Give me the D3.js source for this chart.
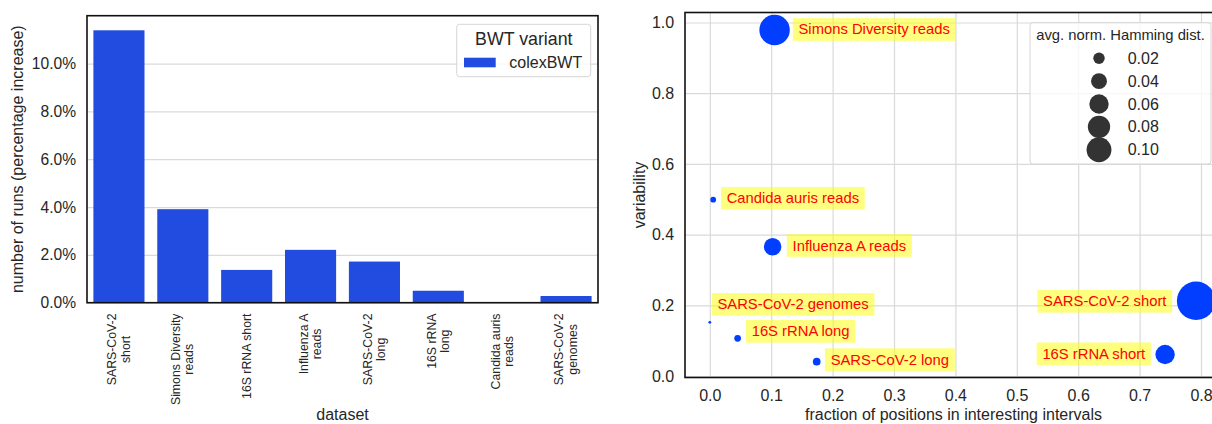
<!DOCTYPE html>
<html>
<head>
<meta charset="utf-8">
<script src="https://cdn.jsdelivr.net/npm/d3@7"></script>
<style>
  body { margin: 0; background: #fff; }
  svg { display: block; font-family: Arial, "Liberation Sans", sans-serif; }
</style>
</head>
<body>
<div id="chart"></div>
<script>
// left panel: run increase per dataset
const barCategories = ['SARS-CoV-2\nshort', 'Simons Diversity\nreads', '16S rRNA short', 'Influenza A\nreads',
    'SARS-CoV-2\nlong', '16S rRNA\nlong', 'Candida auris\nreads', 'SARS-CoV-2\ngenomes'];
const runIncrease = [11.39, 3.91, 1.37, 2.21, 1.72, 0.50, 0.0, 0.28];
const pctTicks = [0, 2, 4, 6, 8, 10];

// right panel: scatter
const datasets = ['SARS-CoV-2 short', 'Simons Diversity reads', '16S rRNA short', 'Influenza A reads',
    'SARS-CoV-2 long', '16S rRNA long', 'Candida auris reads', 'SARS-CoV-2 genomes'];
const fraction = [0.792, 0.1055, 0.7415, 0.1023, 0.1741, 0.0453, 0.0055, 0.0];
const variability = [0.2127, 0.9788, 0.0608, 0.3658, 0.0405, 0.1066, 0.4987, 0.1519];
const hamming = [0.240, 0.150, 0.060, 0.049, 0.0083, 0.006, 0.004, 0.0];
const xTicks = [0, 0.1, 0.2, 0.3, 0.4, 0.5, 0.6, 0.7, 0.8];
const yTicks = [0, 0.2, 0.4, 0.6, 0.8, 1.0];
const sizeLegend = [0.02, 0.04, 0.06, 0.08, 0.10];

// label placement (side of the point, gap to circle edge, vertical nudge)
const labelSide = ['left', 'right', 'left', 'right', 'right', 'right', 'right', 'right'];
const labelGap = [4.7, 3, 4.5, 5.5, 4.4, 5, 4.9, 0.5];
const labelShift = [0.5, -0.5, -0.7, -1.2, -2, -7, -1.4, -18];

const textColor = '#262626';
const gridColor = '#dadada';

const svg = d3.select('#chart')
    .append('svg')
        .attr('width', 1212)
        .attr('height', 424);

// ---------- bar chart ----------
const L = { left: 87, right: 598, top: 15.7, bottom: 302.7 };

const xBand = d3.scaleBand()
    .domain(barCategories)
    .range([L.left, L.right])
    .paddingInner(0.2)
    .paddingOuter(0.1);

const yPct = d3.scaleLinear()
    .domain([0, 12.0])
    .range([L.bottom, L.top]);

const gridL = svg.append('g')
    .attr('transform', `translate(${L.left},0)`)
    .call(d3.axisLeft(yPct).tickValues(pctTicks).tickSize(-(L.right - L.left)).tickFormat(''));
gridL.select('.domain').remove();
gridL.selectAll('line').attr('stroke', gridColor).attr('stroke-width', 1.2);

svg.selectAll('.bar')
    .data(runIncrease)
    .enter()
    .append('rect')
        .attr('class', 'bar')
        .attr('x', (d, i) => xBand(barCategories[i]))
        .attr('width', xBand.bandwidth())
        .attr('y', d => yPct(d))
        .attr('height', d => yPct(0) - yPct(d))
        .style('fill', '#224be0');

const yAxisL = svg.append('g')
    .attr('transform', `translate(${L.left},0)`)
    .call(d3.axisLeft(yPct).tickValues(pctTicks).tickSize(0).tickPadding(11)
        .tickFormat(d => d.toFixed(1) + '%'));
yAxisL.select('.domain').remove();
yAxisL.selectAll('text')
    .attr('font-size', 15.6)
    .attr('fill', textColor)
    .attr('font-family', 'Arial, "Liberation Sans", sans-serif');

// rotated multi-line category labels
const tickTop = 313.5;
const lineStep = 13.2;
barCategories.forEach(cat => {
    const lines = cat.split('\n');
    const g = svg.append('g')
        .attr('transform', `translate(${xBand(cat) + xBand.bandwidth() / 2}, ${tickTop}) rotate(-90)`);
    const texts = lines.map((ln, i) => g.append('text')
        .attr('y', (i - (lines.length - 1) / 2) * lineStep)
        .attr('dominant-baseline', 'central')
        .attr('text-anchor', 'middle')
        .attr('font-size', 12.3)
        .attr('fill', textColor)
        .text(ln));
    const maxLen = d3.max(texts, t => t.node().getComputedTextLength());
    texts.forEach(t => t.attr('x', -maxLen / 2));
});

svg.append('rect')
    .attr('x', L.left)
    .attr('y', L.top)
    .attr('width', L.right - L.left)
    .attr('height', L.bottom - L.top)
    .style('fill', 'none')
    .style('stroke', '#111')
    .style('stroke-width', 1.6);

svg.append('text')
    .attr('transform', `translate(17.8, ${(L.top + L.bottom) / 2}) rotate(-90)`)
    .attr('text-anchor', 'middle')
    .attr('dominant-baseline', 'central')
    .attr('font-size', 16)
    .attr('fill', textColor)
    .text('number of runs (percentage increase)');

svg.append('text')
    .attr('x', (L.left + L.right) / 2)
    .attr('y', 420)
    .attr('text-anchor', 'middle')
    .attr('font-size', 16)
    .attr('fill', textColor)
    .text('dataset');

// bar legend
const legL = svg.append('g');
legL.append('rect')
    .attr('x', 456.7).attr('y', 24.3)
    .attr('width', 134).attr('height', 52.4)
    .attr('rx', 3)
    .style('fill', '#fff').style('fill-opacity', 0.8)
    .style('stroke', '#d6d6d6').style('stroke-width', 1);
legL.append('text')
    .attr('x', 523.8).attr('y', 39.3)
    .attr('text-anchor', 'middle')
    .attr('dominant-baseline', 'central')
    .attr('font-size', 17.8)
    .attr('fill', textColor)
    .text('BWT variant');
legL.append('rect')
    .attr('x', 464).attr('y', 57.7)
    .attr('width', 31.7).attr('height', 9.6)
    .style('fill', '#224be0');
legL.append('text')
    .attr('x', 509.3).attr('y', 62.5)
    .attr('dominant-baseline', 'central')
    .attr('font-size', 16)
    .attr('fill', textColor)
    .text('colexBWT');

// ---------- scatter ----------
const R = { left: 685, right: 1222, top: 12.5, bottom: 377.5 };

const xLin = d3.scaleLinear()
    .domain([-0.0404, 0.8342])
    .range([R.left, R.right]);
const yLin = d3.scaleLinear()
    .domain([-0.0042, 1.0283])
    .range([R.bottom, R.top]);
// marker area (px^2) grows linearly with the hamming distance
const area = d3.scaleLinear()
    .domain([0, 0.1])
    .range([2, 155]);
const radius = v => Math.sqrt(area(v));

const gx = svg.append('g')
    .attr('transform', `translate(0,${R.bottom})`)
    .call(d3.axisBottom(xLin).tickValues(xTicks).tickSize(-(R.bottom - R.top)).tickFormat(''));
gx.select('.domain').remove();
gx.selectAll('line').attr('stroke', gridColor).attr('stroke-width', 1.2);

const gy = svg.append('g')
    .attr('transform', `translate(${R.left},0)`)
    .call(d3.axisLeft(yLin).tickValues(yTicks).tickSize(-(R.right - R.left)).tickFormat(''));
gy.select('.domain').remove();
gy.selectAll('line').attr('stroke', gridColor).attr('stroke-width', 1.2);

const xAxisR = svg.append('g')
    .attr('transform', `translate(0,${R.bottom})`)
    .call(d3.axisBottom(xLin).tickValues(xTicks).tickSize(0).tickPadding(12).tickFormat(d3.format('.1f')));
xAxisR.select('.domain').remove();
xAxisR.selectAll('text')
    .attr('font-size', 16)
    .attr('fill', textColor)
    .attr('font-family', 'Arial, "Liberation Sans", sans-serif');

const yAxisR = svg.append('g')
    .attr('transform', `translate(${R.left},0)`)
    .call(d3.axisLeft(yLin).tickValues(yTicks).tickSize(0).tickPadding(10.8).tickFormat(d3.format('.1f')));
yAxisR.select('.domain').remove();
yAxisR.selectAll('text')
    .attr('font-size', 16)
    .attr('fill', textColor)
    .attr('font-family', 'Arial, "Liberation Sans", sans-serif');

svg.selectAll('.dot')
    .data(datasets)
    .enter()
    .append('circle')
        .attr('class', 'dot')
        .attr('cx', (d, i) => xLin(fraction[i]))
        .attr('cy', (d, i) => yLin(variability[i]))
        .attr('r', (d, i) => radius(hamming[i]))
        .style('fill', '#023eff');

// annotation boxes
datasets.forEach((name, i) => {
    const cx = xLin(fraction[i]);
    const cy = yLin(variability[i]) + labelShift[i];
    const r = radius(hamming[i]);
    const g = svg.append('g');
    const box = g.append('rect');
    const t = g.append('text')
        .attr('dominant-baseline', 'central')
        .attr('font-size', 14.8)
        .attr('fill', '#ff0000')
        .text(name);
    const w = t.node().getComputedTextLength();
    const padX = 5.7, h = 22.7;
    const boxW = w + 2 * padX;
    const boxX = labelSide[i] === 'right' ? cx + r + labelGap[i] : cx - r - labelGap[i] - boxW;
    box.attr('x', boxX).attr('y', cy - h / 2)
        .attr('width', boxW).attr('height', h)
        .style('fill', 'yellow').style('fill-opacity', 0.5);
    t.attr('x', boxX + padX).attr('y', cy);
});

svg.append('rect')
    .attr('x', R.left)
    .attr('y', R.top)
    .attr('width', R.right - R.left)
    .attr('height', R.bottom - R.top)
    .style('fill', 'none')
    .style('stroke', '#111')
    .style('stroke-width', 1.6);

svg.append('text')
    .attr('transform', `translate(639.6, ${(R.top + R.bottom) / 2}) rotate(-90)`)
    .attr('text-anchor', 'middle')
    .attr('dominant-baseline', 'central')
    .attr('font-size', 16)
    .attr('fill', textColor)
    .text('variability');

svg.append('text')
    .attr('x', (R.left + R.right) / 2)
    .attr('y', 420)
    .attr('text-anchor', 'middle')
    .attr('font-size', 16)
    .attr('fill', textColor)
    .text('fraction of positions in interesting intervals');

// size legend
const legR = svg.append('g');
legR.append('rect')
    .attr('x', 1030).attr('y', 22.7)
    .attr('width', 181).attr('height', 141.3)
    .attr('rx', 3)
    .style('fill', '#fff').style('fill-opacity', 0.8)
    .style('stroke', '#d6d6d6').style('stroke-width', 1);
legR.append('text')
    .attr('x', 1120.5).attr('y', 35)
    .attr('text-anchor', 'middle')
    .attr('dominant-baseline', 'central')
    .attr('font-size', 14.8)
    .attr('fill', textColor)
    .text('avg. norm. Hamming dist.');

const legY = d3.scalePoint()
    .domain(sizeLegend)
    .range([58.3, 149.7]);

legR.selectAll('.size-dot')
    .data(sizeLegend)
    .enter()
    .append('circle')
        .attr('class', 'size-dot')
        .attr('cx', 1099)
        .attr('cy', d => legY(d))
        .attr('r', d => radius(d))
        .style('fill', '#333');

legR.selectAll('.size-label')
    .data(sizeLegend)
    .enter()
    .append('text')
        .attr('class', 'size-label')
        .attr('x', 1127.7)
        .attr('y', d => legY(d))
        .attr('dominant-baseline', 'central')
        .attr('font-size', 16)
        .attr('fill', textColor)
        .text(d => d.toFixed(2));
</script>
</body>
</html>
